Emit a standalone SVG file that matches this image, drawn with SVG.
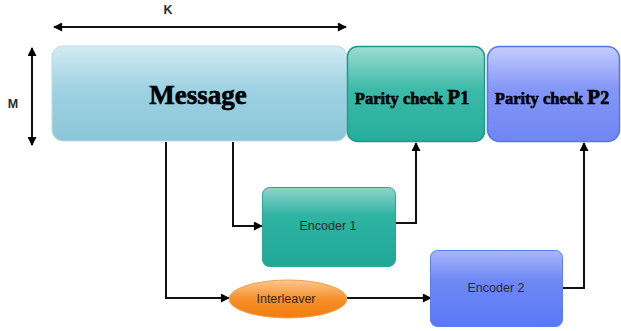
<svg xmlns="http://www.w3.org/2000/svg" width="621" height="331" viewBox="0 0 621 331">
<defs>
<linearGradient id="gMsg" x1="0" y1="0" x2="0" y2="1"><stop offset="0" stop-color="#d3ecf3"/><stop offset="0.45" stop-color="#9fd2e2"/><stop offset="1" stop-color="#8cc6d9"/></linearGradient>
<linearGradient id="gTeal" x1="0" y1="0" x2="0" y2="1"><stop offset="0" stop-color="#9edcd2"/><stop offset="0.45" stop-color="#3dbaa9"/><stop offset="1" stop-color="#25ad9c"/></linearGradient>
<linearGradient id="gBlue" x1="0" y1="0" x2="0" y2="1"><stop offset="0" stop-color="#c3ccfd"/><stop offset="0.45" stop-color="#8496f7"/><stop offset="1" stop-color="#6f86f4"/></linearGradient>
<linearGradient id="gTeal2" x1="0" y1="0" x2="0" y2="1"><stop offset="0" stop-color="#8fd5cb"/><stop offset="0.35" stop-color="#2fb3a3"/><stop offset="1" stop-color="#1fa796"/></linearGradient>
<linearGradient id="gBlue2" x1="0" y1="0" x2="0" y2="1"><stop offset="0" stop-color="#a9b7fb"/><stop offset="0.4" stop-color="#6f88f6"/><stop offset="1" stop-color="#5878f3"/></linearGradient>
<linearGradient id="gOr" x1="0" y1="0" x2="0" y2="1"><stop offset="0" stop-color="#fbc88f"/><stop offset="0.5" stop-color="#f7902a"/><stop offset="1" stop-color="#f07d10"/></linearGradient>
<marker id="ah" viewBox="0 0 10 10" refX="9" refY="5" markerWidth="10" markerHeight="9" markerUnits="userSpaceOnUse" orient="auto-start-reverse"><path d="M0,0 L10,5 L0,10 z" fill="#000"/></marker>
</defs>
<style>
.ln{fill:none;stroke:#111;stroke-width:2}
.big{font-family:"Liberation Serif",serif;font-weight:bold;fill:#000;stroke:#000;stroke-width:0.6}
.sm{font-family:"Liberation Sans",sans-serif;font-size:12.5px;fill:#2a2a2a}
</style>
<g id="connectors">
<line class="ln" x1="54" y1="27" x2="346" y2="27" marker-start="url(#ah)" marker-end="url(#ah)"/>
<line class="ln" x1="32" y1="48" x2="32" y2="145" marker-start="url(#ah)" marker-end="url(#ah)"/>
<path class="ln" d="M166,142 V298 H229" marker-end="url(#ah)"/>
<path class="ln" d="M233,142 V226 H262" marker-end="url(#ah)"/>
<path class="ln" d="M396,223 H416 V143" marker-end="url(#ah)"/>
<path class="ln" d="M347,298 H431" marker-end="url(#ah)"/>
<path class="ln" d="M563,288 H584 V143" marker-end="url(#ah)"/>
</g>
<g id="labelK"><text x="168" y="14" class="sm" font-weight="bold" font-size="10" text-anchor="middle">K</text></g>
<g id="labelM"><text x="13" y="108" class="sm" font-weight="bold" font-size="10" text-anchor="middle">M</text></g>
<g id="message">
<rect x="52" y="46" width="295" height="95" rx="11" fill="url(#gMsg)" stroke="#b6dbe6" stroke-width="1"/>
<text x="198" y="104" class="big" font-size="27" text-anchor="middle">Message</text>
</g>
<g id="parity1">
<rect x="347.5" y="46.5" width="137" height="95" rx="10" fill="url(#gTeal)" stroke="#1e9a8a" stroke-width="1.5"/>
<text x="412" y="104" class="big" font-size="16.5" text-anchor="middle">Parity check <tspan font-size="21">P</tspan><tspan font-size="18">1</tspan></text>
</g>
<g id="parity2">
<rect x="487.5" y="46.5" width="132" height="95" rx="12" fill="url(#gBlue)" stroke="#5a72ea" stroke-width="1.5"/>
<text x="552" y="104" class="big" font-size="16.5" text-anchor="middle">Parity check <tspan font-size="21">P</tspan><tspan font-size="18">2</tspan></text>
</g>
<g id="encoder1">
<rect x="262.5" y="187.5" width="133" height="79" rx="7" fill="url(#gTeal2)" stroke="#2ba696" stroke-width="1"/>
<text x="328" y="230" class="sm" text-anchor="middle">Encoder 1</text>
</g>
<g id="interleaver">
<ellipse cx="288" cy="299" rx="59" ry="19" fill="url(#gOr)" stroke="#f3a04e" stroke-width="1"/>
<text x="286" y="303" class="sm" text-anchor="middle">Interleaver</text>
</g>
<g id="encoder2">
<rect x="430.5" y="250.5" width="132" height="76" rx="7" fill="url(#gBlue2)" stroke="#5d7bef" stroke-width="1"/>
<text x="496" y="292" class="sm" text-anchor="middle">Encoder 2</text>
</g>
</svg>
